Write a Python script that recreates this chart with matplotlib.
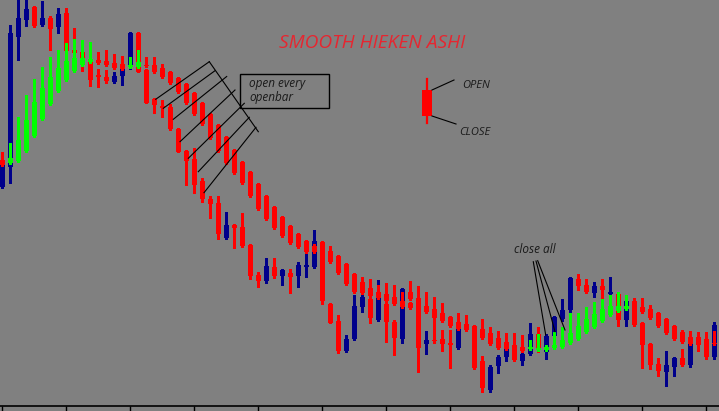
import matplotlib
matplotlib.use('Agg')
import matplotlib.pyplot as plt
from matplotlib.lines import Line2D
from matplotlib.patches import Rectangle
import numpy as np

W, H = 719, 411

# ---- regular price candles (arbitrary price units) ----
bar_open = [213, 233, 363, 380, 393, 375, 382, 373, 387, 350,
            348, 338, 325, 323, 318, 324, 334, 367, 330, 301,
            294, 293, 271, 249, 241, 219, 201, 197, 162, 175,
            173, 155, 125, 119, 133, 124, 127, 124, 133, 133,
            158, 96, 79, 49, 61, 93, 101, 80, 96, 78,
            61, 108, 102, 56, 60, 61, 57, 52, 75, 74,
            39, 10, 34, 43, 55, 39, 46, 66, 48, 64,
            81, 90, 121, 115, 107, 114, 106, 106, 80, 99,
            77, 56, 36, 28, 33, 42, 35, 60, 61, 43]
bar_high = [242, 375, 405, 403, 394, 399, 384, 392, 392, 372,
            350, 342, 331, 330, 328, 336, 368, 368, 331, 302,
            300, 296, 272, 250, 252, 222, 204, 204, 188, 176,
            187, 156, 128, 142, 142, 131, 131, 138, 151, 170,
            159, 97, 85, 65, 105, 105, 103, 120, 98, 80,
            112, 119, 114, 69, 82, 70, 70, 73, 78, 75,
            44, 35, 45, 53, 67, 48, 77, 73, 66, 84,
            101, 123, 126, 121, 118, 121, 123, 108, 100, 102,
            78, 57, 42, 49, 43, 51, 57, 68, 68, 78]
bar_low = [212, 217, 340, 374, 373, 374, 350, 367, 348, 346,
           329, 314, 313, 317, 317, 315, 331, 328, 297, 287,
           283, 270, 248, 215, 207, 198, 182, 161, 161, 152,
           153, 121, 113, 117, 122, 115, 107, 113, 123, 132,
           96, 77, 47, 48, 60, 88, 77, 79, 58, 45,
           57, 100, 28, 46, 57, 49, 32, 51, 70, 31,
           8, 8, 27, 39, 39, 35, 45, 48, 41, 60,
           79, 87, 110, 107, 103, 102, 105, 74, 74, 74,
           32, 31, 24, 14, 24, 34, 33, 49, 41, 41]
bar_close = [238, 367, 382, 391, 374, 382, 371, 386, 349, 347,
             340, 320, 323, 319, 324, 331, 367, 328, 297, 295,
             292, 271, 248, 239, 215, 201, 196, 166, 175, 172,
             154, 124, 119, 134, 124, 130, 123, 135, 135, 159,
             99, 77, 49, 61, 94, 103, 82, 102, 78, 62,
             111, 101, 52, 60, 59, 56, 55, 71, 71, 32,
             12, 33, 43, 51, 40, 46, 66, 50, 64, 83,
             90, 122, 114, 108, 114, 110, 108, 80, 99, 75,
             55, 35, 29, 35, 42, 35, 56, 57, 43, 75]

# ---- smoothed Heiken Ashi candles ----
ha_open = [240, 237, 239, 249, 264, 281, 296, 309, 320, 329,
           335, 338, 340, 339, 337, 336, 333, 333, 335, 335,
           332, 328, 322, 316, 307, 297, 286, 275, 263, 250,
           238, 228, 216, 204, 193, 183, 174, 166, 159, 154,
           153, 149, 144, 136, 126, 118, 112, 108, 106, 103,
           99, 97, 96, 94, 91, 87, 83, 78, 76, 74,
           71, 67, 62, 58, 55, 53, 51, 50, 50, 52,
           53, 57, 61, 68, 73, 79, 85, 89, 91, 97,
           93, 91, 87, 81, 74, 68, 63, 63, 59, 57]
ha_high = [248, 257, 283, 305, 321, 333, 343, 350, 357, 361,
           360, 358, 348, 350, 346, 344, 343, 350, 343, 343,
           336, 329, 323, 317, 308, 298, 287, 276, 264, 251,
           239, 229, 217, 205, 194, 184, 175, 167, 160, 156,
           154, 154, 145, 137, 127, 123, 121, 115, 117, 115,
           108, 98, 100, 108, 103, 97, 84, 87, 85, 75,
           81, 73, 69, 67, 65, 65, 60, 66, 55, 68,
           73, 87, 87, 93, 98, 101, 105, 108, 105, 102,
           102, 95, 88, 82, 75, 70, 69, 68, 60, 69]
ha_low = [234, 236, 238, 248, 263, 280, 295, 308, 319, 328,
          334, 337, 336, 334, 331, 330, 332, 332, 333, 327,
          322, 316, 307, 296, 285, 275, 261, 248, 236, 226,
          216, 203, 190, 180, 171, 163, 156, 152, 147, 147,
          143, 137, 126, 115, 107, 106, 103, 101, 98, 95,
          92, 91, 89, 87, 81, 78, 73, 70, 69, 66,
          61, 55, 51, 50, 47, 48, 50, 49, 49, 51,
          52, 56, 60, 67, 72, 78, 84, 88, 90, 90,
          87, 81, 73, 66, 60, 57, 55, 49, 50, 55]
ha_close = [235, 242, 260, 280, 298, 312, 323, 332, 339, 342,
            342, 341, 337, 335, 332, 331, 335, 338, 334, 328,
            323, 317, 308, 297, 286, 276, 262, 249, 237, 227,
            217, 204, 191, 181, 172, 164, 157, 153, 148, 148,
            144, 138, 127, 116, 108, 107, 104, 102, 99, 96,
            93, 92, 90, 88, 82, 79, 74, 71, 70, 67,
            62, 56, 52, 51, 48, 49, 53, 52, 53, 55,
            60, 67, 74, 81, 86, 91, 94, 94, 94, 91,
            88, 82, 74, 67, 61, 58, 56, 55, 51, 56]

BG = '#808080'
RED = '#ff0000'
NAVY = '#00008b'
LIME = '#00ff00'

fig = plt.figure(figsize=(W / 100, H / 100), dpi=100, facecolor=BG)
ax = fig.add_axes([0, 5 / H, 1, 1 - 5 / H])
ax.set_facecolor(BG)


def draw_candles(o, h, l, c, up_col, down_col, z):
    o, h, l, c = map(np.asarray, (o, h, l, c))
    x = np.arange(len(o))
    cols = [up_col if cc > oo else down_col for oo, cc in zip(o, c)]
    ax.vlines(x, l, h, colors=cols, linewidth=0.9, zorder=z, antialiased=False)
    bottom = np.minimum(o, c)
    height = np.maximum(np.abs(c - o), 1.0)
    ax.bar(x, height, bottom=bottom, width=0.62, color=cols, zorder=z + 0.5,
           linewidth=0, antialiased=False)


draw_candles(bar_open, bar_high, bar_low, bar_close, NAVY, RED, 2)
draw_candles(ha_open, ha_high, ha_low, ha_close, LIME, RED, 4)

ax.set_xlim(-2.3 / 8, (W - 2.3) / 8)
ax.set_ylim(-6, 400)
for s in ['top', 'left', 'right']:
    ax.spines[s].set_visible(False)
ax.spines['bottom'].set_color('black')
ax.spines['bottom'].set_linewidth(1.2)
ax.set_xticks(np.arange(0, 90, 8))
ax.set_xticklabels([])
ax.set_yticks([])
ax.tick_params(axis='x', direction='out', length=4, width=1, color='black')


# ---- annotations in pixel coordinates of the screenshot ----
def P(x, y):
    return (x / W, 1 - y / H)


def seg(x1, y1, x2, y2, lw=0.8):
    a, b = P(x1, y1), P(x2, y2)
    fig.add_artist(Line2D([a[0], b[0]], [a[1], b[1]], transform=fig.transFigure,
                          color='black', linewidth=lw, zorder=10))


def txt(x, y, s, size, color='#1a1a1a', ha='left'):
    fig.text(*P(x, y), s, fontsize=size, color=color, ha=ha, va='baseline',
             family=['Open Sans', 'DejaVu Sans'], style='italic', zorder=11)


txt(372.5, 48.5, 'SMOOTH HIEKEN ASHI', 13.8, color='#e62630', ha='center')

# "open every openbar" box and hatch lines
box_l, box_t, box_r, box_b = P(239.5, 74.5)[0], P(239.5, 74.5)[1], P(329, 108)[0], P(329, 108)[1]
fig.add_artist(Rectangle((box_l, box_b), box_r - box_l, box_t - box_b, transform=fig.transFigure,
                         fill=False, edgecolor='black', linewidth=1.0, zorder=10))
txt(249, 87.5, 'open every', 8.5)
txt(249, 101.5, 'openbar', 8.5)
seg(209.3, 61.7, 258.3, 131.7)
hatch = [((155.7, 99.3), (209.3, 61.7)), ((163.3, 108.3), (215, 70.7)),
         ((173.3, 119.3), (226.7, 76.5)), ((180, 141.7), (235, 90)),
         ((188.3, 158.3), (244.3, 103.3)), ((198.3, 171.7), (249.3, 117.3)),
         ((204, 192.7), (256, 127.3))]
for (a, b) in hatch:
    seg(a[0], a[1], b[0], b[1])

# legend candle
lx0, ly0 = P(422, 116)
lx1, ly1 = P(432, 90)
fig.add_artist(Rectangle((lx0, ly0), lx1 - lx0, ly1 - ly0, transform=fig.transFigure,
                         facecolor=RED, edgecolor='none', zorder=10))
wa, wb = P(427, 79), P(427, 123)
fig.add_artist(Line2D([wa[0], wb[0]], [wa[1], wb[1]], transform=fig.transFigure,
                      color=RED, linewidth=1.6, zorder=9))
seg(432, 90, 454, 80)
seg(432, 116, 456, 124)
txt(462, 88.5, 'OPEN', 8)
txt(459, 135, 'CLOSE', 8)

# close all
txt(513.5, 252.5, 'close all', 8.5)
seg(533.3, 261.7, 545.7, 335)
seg(536, 261, 555, 331.7)
seg(537.7, 260.7, 565, 330)

fig.savefig('out.png', dpi=100, facecolor=BG)
